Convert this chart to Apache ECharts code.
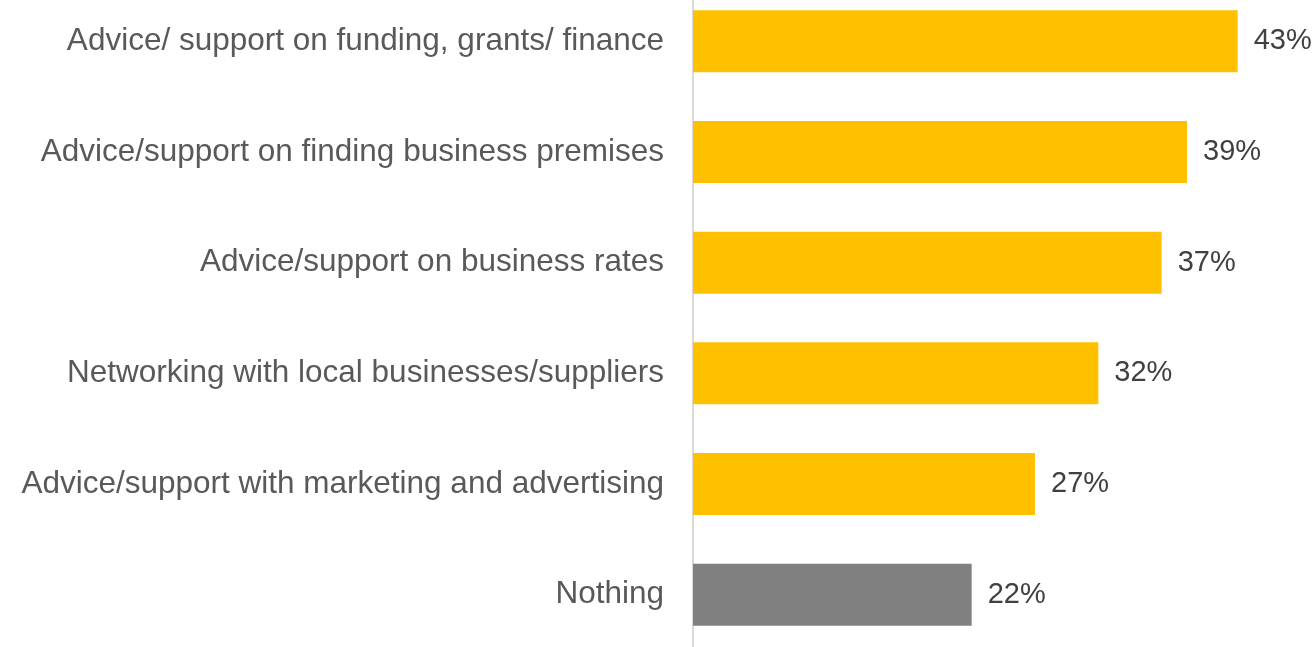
<!DOCTYPE html>
<html>
<head>
<meta charset="utf-8">
<script src="https://cdn.jsdelivr.net/npm/echarts@6/dist/echarts.min.js"></script>
<style>
  html, body { margin: 0; padding: 0; background: #fff; overflow: hidden; }
  #wrap { width: 1315px; height: 647px; overflow: hidden; position: relative; }
  /* the plot band runs a little past the top and bottom edges */
  #chart { width: 1315px; height: 680px; position: absolute; left: 0; top: -14px; }
</style>
</head>
<body>
<div id="wrap"><div id="chart"></div></div>
<script>
// Support options, listed top to bottom
const categories = [
  'Advice/ support on funding, grants/ finance',
  'Advice/support on finding business premises',
  'Advice/support on business rates',
  'Networking with local businesses/suppliers',
  'Advice/support with marketing and advertising',
  'Nothing'
];
// Share of respondents (%)
const values = [43, 39, 37, 32, 27, 22];
const barColors = ['#FFC000', '#FFC000', '#FFC000', '#FFC000', '#FFC000', '#808080'];

const chart = echarts.init(document.getElementById('chart'), null, { renderer: 'canvas' });

chart.setOption({
  animation: false,
  backgroundColor: '#ffffff',
  grid: { left: 693, right: 14, top: 0, height: 664, containLabel: false },
  xAxis: {
    type: 'value',
    min: 0,
    max: 48,
    show: false
  },
  yAxis: {
    type: 'category',
    inverse: true,
    data: categories,
    axisLine: { show: true, lineStyle: { color: '#D9D9D9', width: 2 } },
    axisTick: { show: false },
    axisLabel: {
      margin: 29,
      color: '#595959',
      fontSize: 31.5,
      fontFamily: 'Liberation Sans, Arial, sans-serif'
    }
  },
  series: [{
    type: 'bar',
    barWidth: 62,
    data: values.map((v, i) => ({ value: v, itemStyle: { color: barColors[i] } })),
    label: {
      show: true,
      position: 'right',
      distance: 16,
      formatter: p => p.value + '%',
      color: '#404040',
      fontSize: 29,
      fontFamily: 'Liberation Sans, Arial, sans-serif'
    }
  }]
});
</script>
</body>
</html>
